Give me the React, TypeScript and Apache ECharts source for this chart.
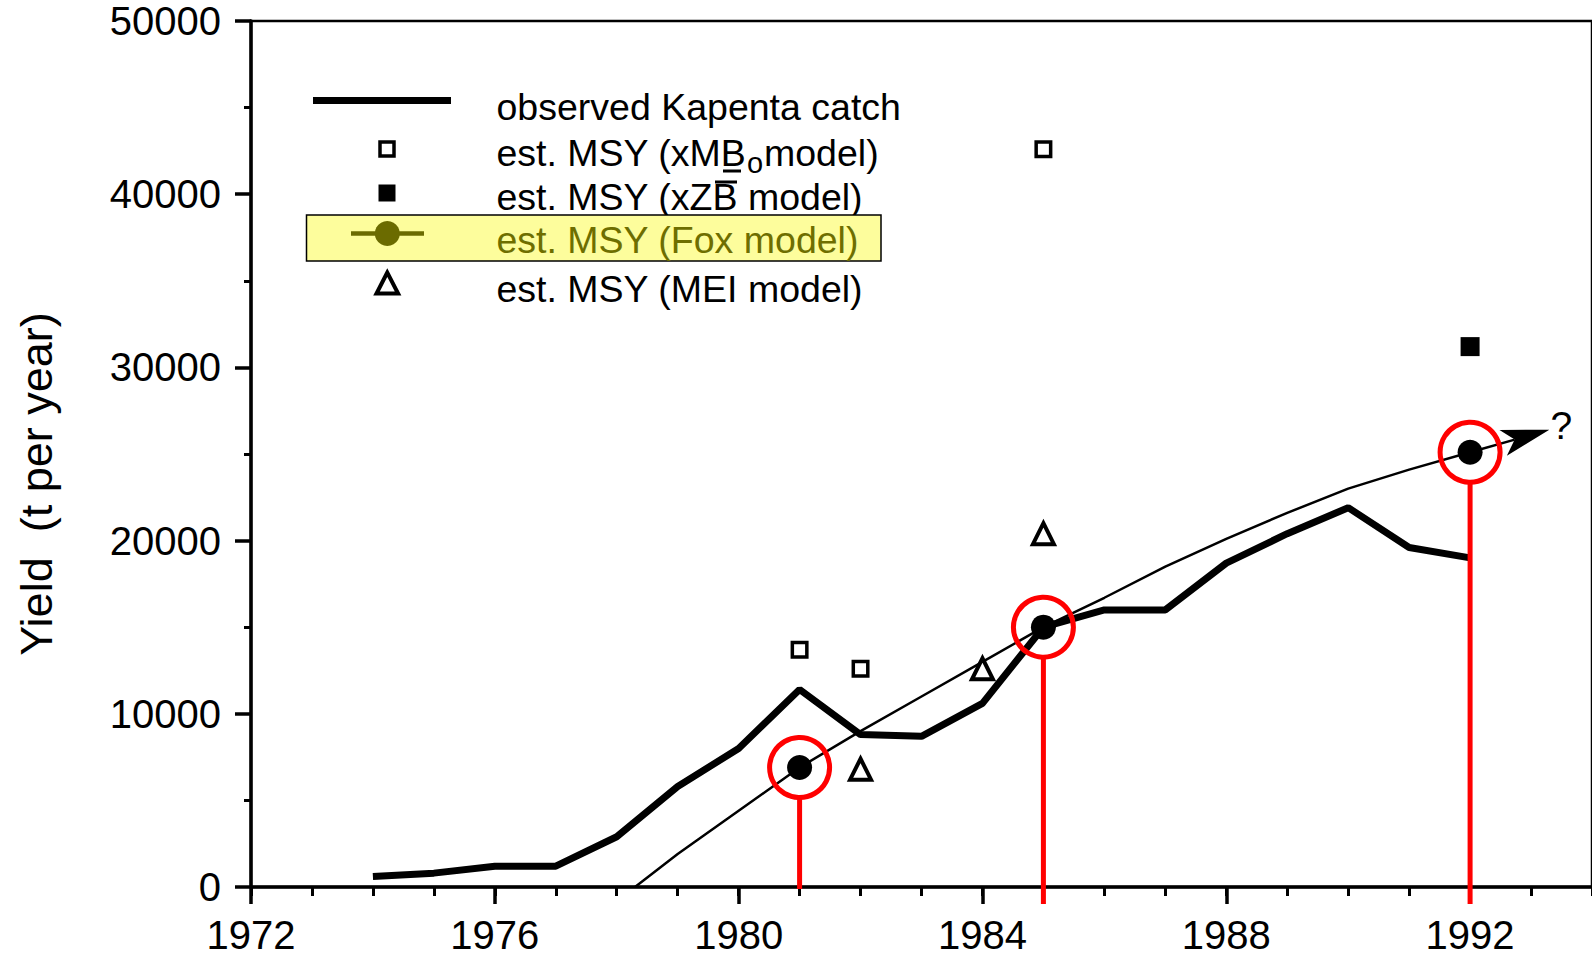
import React, { useEffect, useRef } from 'react';
import * as echarts from 'echarts';

const FONT = '"Liberation Sans", Arial, Helvetica, sans-serif';

// Observed Kapenta catch (t per year)
const CATCH_YEARS = [1974, 1975, 1976, 1977, 1978, 1979, 1980, 1981, 1982, 1983, 1984, 1985, 1986, 1987, 1988, 1989, 1990, 1991, 1992];
const CATCH_VALUES = [600, 800, 1200, 1200, 2900, 5800, 8000, 11400, 8800, 8700, 10600, 15000, 16000, 16000, 18700, 20400, 21900, 19600, 19000];

// Fox model MSY trend line
const FOX_TREND_YEARS = [1978.3, 1979, 1980, 1981, 1982, 1983, 1984, 1985, 1986, 1987, 1988, 1989, 1990, 1991, 1992];
const FOX_TREND_VALUES = [0, 1900, 4400, 6900, 9000, 11000, 13000, 15000, 16700, 18500, 20100, 21600, 23000, 24100, 25100];
// Extrapolation arrow: from the 1992 estimate to the arrow tip
const ARROW_START = [1992, 25100];
const ARROW_END = [1993.3, 26400];
const ARROW_LABEL = '?';

// Fox model estimates (highlighted)
const FOX_YEARS = [1981, 1985, 1992];
const FOX_VALUES = [6900, 15000, 25100];

// xMBo model
const XMB_YEARS = [1981, 1982, 1985];
const XMB_VALUES = [13700, 12600, 42600];

// xZB model
const XZB_YEARS = [1992];
const XZB_VALUES = [31200];

// MEI model
const MEI_YEARS = [1982, 1984, 1985];
const MEI_VALUES = [6800, 12600, 20400];

const Y_TITLE = 'Yield  (t per year)';
const LEGEND_LABELS = ['observed Kapenta catch', 'est. MSY (xMB', 'o', 'model)', 'est. MSY (xZB model)', 'est. MSY (Fox model)', 'est. MSY (MEI model)'];

const DROP_OVERSHOOT = [2, 17, 17];

const pairs = (xs: number[], ys: number[]) => xs.map((x, i) => [x, ys[i]]);

const OLIVE = '#6b6b00';
const LF = 37.5;

function txt(text: string, x: number, y: number, size: number, color = '#000', extra: any = {}) {
  const { align, lineHeight, ...rest } = extra;
  const style: any = {
    text,
    fill: color,
    fontSize: size,
    fontFamily: FONT,
    align: align || 'left',
    textAlign: align || 'left',
    verticalAlign: 'middle',
    textVerticalAlign: 'middle',
  };
  if (lineHeight) style.lineHeight = lineHeight;
  return { type: 'text', x, y, silent: true, ...rest, style };
}

export default function App() {
  const ref = useRef<HTMLDivElement>(null);

  useEffect(() => {
    if (!ref.current) return;
    const chart = echarts.init(ref.current, undefined, { renderer: 'svg' });

    const graphic: any[] = [
      // y axis title
      { ...txt(Y_TITLE, 36, 484, 45, '#000', { align: 'center' }), rotation: Math.PI / 2 },
      // legend row 1
      { type: 'line', silent: true, shape: { x1: 313, y1: 100.5, x2: 451, y2: 100.5 }, style: { stroke: '#000', lineWidth: 7 } },
      txt(LEGEND_LABELS[0], 496.5, 107, LF),
      // legend row 2
      { type: 'rect', silent: true, shape: { x: 380, y: 142, width: 14, height: 14 }, style: { fill: '#fff', stroke: '#000', lineWidth: 3.5 } },
      txt(LEGEND_LABELS[1], 496.5, 152.7, LF),
      txt(LEGEND_LABELS[2], 747, 163, 29, '#000', { lineHeight: 18 }),
      txt(LEGEND_LABELS[3], 764, 152.7, LF),
      { type: 'line', silent: true, shape: { x1: 723, y1: 171, x2: 741, y2: 171 }, style: { stroke: '#000', lineWidth: 3 } },
      // legend row 3
      { type: 'rect', silent: true, shape: { x: 378.5, y: 184.5, width: 17, height: 17 }, style: { fill: '#000' } },
      txt(LEGEND_LABELS[4], 496.5, 197.4, LF),
      { type: 'line', silent: true, shape: { x1: 715, y1: 182, x2: 737, y2: 182 }, style: { stroke: '#000', lineWidth: 3 } },
      // legend row 4 (highlighted)
      { type: 'rect', silent: true, shape: { x: 306.5, y: 215, width: 574.5, height: 46 }, style: { fill: '#fdfd9c', stroke: '#000', lineWidth: 1.5 } },
      { type: 'line', silent: true, shape: { x1: 351, y1: 233.5, x2: 424, y2: 233.5 }, style: { stroke: OLIVE, lineWidth: 4.5 } },
      { type: 'circle', silent: true, shape: { cx: 387.3, cy: 233.5, r: 12.5 }, style: { fill: OLIVE } },
      txt(LEGEND_LABELS[5], 496.5, 240, LF, '#6e6e00'),
      // legend row 5
      { type: 'polygon', silent: true, shape: { points: [[387.3, 272.5], [376.5, 293.5], [398.1, 293.5]] }, style: { fill: '#fff', stroke: '#000', lineWidth: 4, lineJoin: 'miter' } },
      txt(LEGEND_LABELS[6], 496.5, 288.7, LF),
    ];

    const option: any = {
      animation: false,
      textStyle: { fontFamily: FONT },
      grid: { left: 251, right: 0, top: 21, bottom: 70, show: true, borderColor: '#000', borderWidth: 2.5 },
      xAxis: [
        {
          type: 'value', min: 1972, max: 1994, interval: 4,
          axisLine: { show: true, onZero: false, lineStyle: { color: '#000', width: 3.5 } },
          axisTick: { show: true, length: 17, lineStyle: { color: '#000', width: 3.5 } },
          axisLabel: { show: true, margin: 28, fontSize: 40, color: '#000', fontFamily: FONT, formatter: (v: number) => String(v), showMaxLabel: false },
          splitLine: { show: false },
        },
        {
          type: 'value', min: 1972, max: 1994, interval: 1, position: 'bottom',
          axisLine: { show: false, onZero: false },
          axisTick: { show: true, length: 9, lineStyle: { color: '#000', width: 3 } },
          axisLabel: { show: false },
          splitLine: { show: false },
        },
      ],
      yAxis: {
        type: 'value', min: 0, max: 50000, interval: 10000,
        axisLine: { show: true, onZero: false, lineStyle: { color: '#000', width: 3.5 } },
        axisTick: { show: true, length: 16, lineStyle: { color: '#000', width: 3.5 } },
        minorTick: { show: true, splitNumber: 2, length: 7, lineStyle: { color: '#000', width: 3 } },
        axisLabel: { margin: 30, fontSize: 40, color: '#000', fontFamily: FONT, formatter: (v: number) => String(v) },
        splitLine: { show: false },
        minorSplitLine: { show: false },
      },
      graphic,
      series: [
        {
          name: 'est. MSY (Fox model) trend', type: 'line', silent: true, z: 2,
          data: pairs(FOX_TREND_YEARS, FOX_TREND_VALUES),
          symbol: 'none', showSymbol: false,
          lineStyle: { color: '#000', width: 2.5 },
        },
        {
          name: 'Fox trend extrapolation', type: 'custom', silent: true, z: 2,
          data: [[ARROW_START[0], ARROW_START[1], ARROW_END[0], ARROW_END[1]]],
          encode: { x: [0, 2], y: [1, 3] },
          renderItem: (params: any, api: any) => {
            const p0 = api.coord([api.value(0), api.value(1)]);
            const p1 = api.coord([api.value(2), api.value(3)]);
            const dx = p1[0] - p0[0];
            const dy = p1[1] - p0[1];
            const len = Math.sqrt(dx * dx + dy * dy) || 1;
            const ux = dx / len;
            const uy = dy / len;
            const nx = -uy;
            const ny = ux;
            const L = 48;
            const W = 13.5;
            const bx = p1[0] - ux * L;
            const by = p1[1] - uy * L;
            const notchX = p1[0] - ux * L * 0.75;
            const notchY = p1[1] - uy * L * 0.75;
            return {
              type: 'group',
              children: [
                { type: 'line', shape: { x1: p0[0], y1: p0[1], x2: notchX, y2: notchY }, style: { stroke: '#000', lineWidth: 2.5 } },
                {
                  type: 'polygon',
                  shape: { points: [[p1[0], p1[1]], [bx + nx * W, by + ny * W], [notchX, notchY], [bx - nx * W, by - ny * W]] },
                  style: { fill: '#000' },
                },
                {
                  type: 'text', x: p1[0] + 12, y: p1[1] - 4,
                  style: { text: ARROW_LABEL, fontSize: 39, fontFamily: FONT, fill: '#000', align: 'center', verticalAlign: 'middle' },
                },
              ],
            };
          },
        },
        {
          name: 'observed Kapenta catch', type: 'line', silent: true, z: 3,
          data: pairs(CATCH_YEARS, CATCH_VALUES),
          symbol: 'none', showSymbol: false,
          lineStyle: { color: '#000', width: 7 },
        },
        {
          name: 'est. MSY (xMBo model)', type: 'scatter', silent: true, z: 4,
          data: pairs(XMB_YEARS, XMB_VALUES),
          symbol: 'rect', symbolSize: 14.5,
          itemStyle: { color: '#fff', borderColor: '#000', borderWidth: 3.5, opacity: 1 },
        },
        {
          name: 'est. MSY (xZB model)', type: 'scatter', silent: true, z: 4,
          data: pairs(XZB_YEARS, XZB_VALUES),
          symbol: 'rect', symbolSize: 19,
          itemStyle: { color: '#000', opacity: 1 },
        },
        {
          name: 'est. MSY (MEI model)', type: 'scatter', silent: true, z: 4,
          data: pairs(MEI_YEARS, MEI_VALUES),
          symbol: 'triangle', symbolSize: 21,
          itemStyle: { color: '#fff', borderColor: '#000', borderWidth: 4, opacity: 1 },
        },
        {
          name: 'Fox drop lines', type: 'custom', silent: true, z: 5,
          data: pairs(FOX_YEARS, FOX_VALUES),
          encode: { x: 0, y: 1 },
          renderItem: (params: any, api: any) => {
            const x = api.value(0);
            const y = api.value(1);
            const top = api.coord([x, y]);
            const base = api.coord([x, 0]);
            return {
              type: 'line',
              shape: { x1: top[0], y1: top[1] + 31, x2: top[0], y2: base[1] + DROP_OVERSHOOT[params.dataIndex] },
              style: { stroke: '#ff0000', lineWidth: 5 },
            };
          },
        },
        {
          name: 'est. MSY (Fox model)', type: 'scatter', silent: true, z: 6,
          data: pairs(FOX_YEARS, FOX_VALUES),
          symbol: 'circle', symbolSize: 25,
          itemStyle: { color: '#000', opacity: 1 },
        },
        {
          name: 'Fox highlight rings', type: 'scatter', silent: true, z: 7,
          data: pairs(FOX_YEARS, FOX_VALUES),
          symbol: 'circle', symbolSize: 60,
          itemStyle: { color: 'rgba(0,0,0,0)', borderColor: '#ff0000', borderWidth: 5, opacity: 1 },
        },
      ],
    };

    chart.setOption(option);
    return () => chart.dispose();
  }, []);

  return <div ref={ref} style={{ position: 'absolute', left: 0, top: 0, width: 1592, height: 957, background: '#fff' }} />;
}
